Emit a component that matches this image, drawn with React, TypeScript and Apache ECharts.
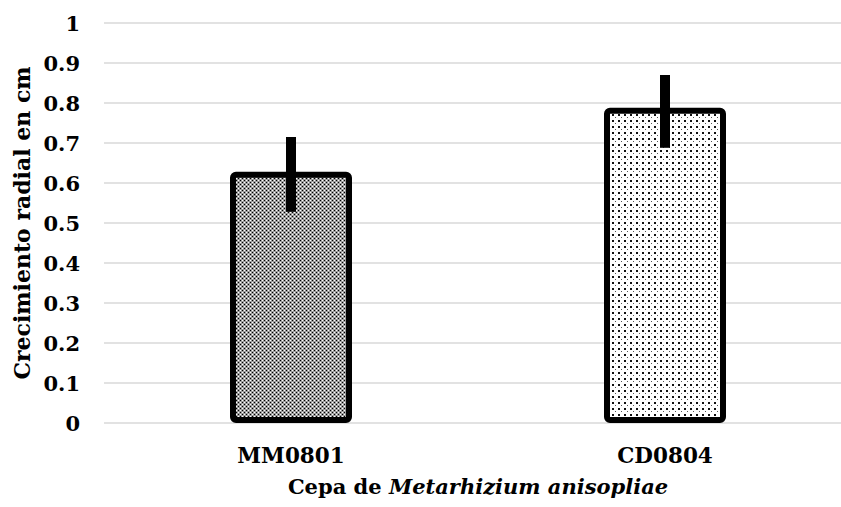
import React, { useEffect, useRef } from "react";
import * as echarts from "echarts";

const categories = ["MM0801", "CD0804"];
const means = [0.628, 0.788];
const errLow = [0.528, 0.688];
const errHigh = [0.715, 0.87];
const yTicks = ["0", "0.1", "0.2", "0.3", "0.4", "0.5", "0.6", "0.7", "0.8", "0.9", "1"];

function makePattern(kind: number): HTMLCanvasElement {
  const c = document.createElement("canvas");
  if (kind === 0) {
    c.width = 4;
    c.height = 4;
    const g = c.getContext("2d")!;
    g.fillStyle = "#9c9c9c";
    g.fillRect(0, 0, 4, 4);
    g.fillStyle = "#000";
    g.fillRect(0, 0, 1, 1);
    g.fillRect(2, 2, 1, 1);
    g.fillStyle = "#fff";
    g.fillRect(2, 0, 1, 1);
    g.fillRect(0, 2, 1, 1);
  } else {
    c.width = 6;
    c.height = 6;
    const g = c.getContext("2d")!;
    g.fillStyle = "#fff";
    g.fillRect(0, 0, 6, 6);
    g.fillStyle = "#111";
    g.fillRect(0, 0, 2, 2);
    g.fillStyle = "#555";
    g.fillRect(3, 3, 1, 1);
  }
  return c;
}

export default function App() {
  const ref = useRef<HTMLDivElement>(null);
  useEffect(() => {
    if (!ref.current) return;
    const chart = echarts.init(ref.current, undefined, { renderer: "svg" });
    const patterns = [makePattern(0), makePattern(1)];
    const font = "DejaVu Serif";
    chart.setOption({
      animation: false,
      backgroundColor: "#fff",
      textStyle: { fontFamily: font },
      grid: { left: 104, right: -11, top: 23, bottom: 84, outerBoundsMode: "none", containLabel: false },
      xAxis: {
        type: "category",
        data: categories,
        axisLine: { show: false },
        axisTick: { show: false },
        axisLabel: {
          margin: 21,
          fontFamily: font,
          fontWeight: "bold",
          fontSize: 21.5,
          color: "#000",
        },
        name: "{a|Cepa de }{b|Metarhizium anisopliae}",
        nameLocation: "middle",
        nameGap: 53,
        nameTextStyle: {
          fontFamily: font,
          fontWeight: "bold",
          fontSize: 21,
          rich: {
            a: { fontFamily: font, fontWeight: "bold", fontSize: 21, color: "#000" },
            b: { fontFamily: font, fontWeight: "bold", fontStyle: "italic", fontSize: 21, color: "#000" },
          },
        },
      },
      yAxis: {
        type: "value",
        min: 0,
        max: 1,
        interval: 0.1,
        axisLine: { show: false },
        axisTick: { show: false },
        splitLine: { lineStyle: { color: "#d9d9d9", width: 1.5 } },
        axisLabel: {
          margin: 24,
          fontFamily: font,
          fontWeight: "bold",
          fontSize: 21,
          color: "#000",
          formatter: (v: number) => yTicks[Math.round(v * 10)] ?? String(v),
        },
        name: "Crecimiento radial en cm",
        nameLocation: "middle",
        nameGap: 68,
        nameTextStyle: {
          fontFamily: font,
          fontWeight: "bold",
          fontSize: 22,
          color: "#000",
        },
      },
      series: [
        {
          type: "bar",
          barWidth: 122,
          data: means.map((v, i) => ({
            value: v,
            itemStyle: {
              color: { image: patterns[i], repeat: "repeat" },
              borderColor: "#000",
              borderWidth: 6,
              borderRadius: 3,
            },
          })),
          z: 2,
        },
        {
          type: "custom",
          z: 5,
          data: categories.map((_, i) => [i, errLow[i], errHigh[i]]),
          renderItem: (params: any, api: any) => {
            const i = api.value(0);
            const lo = api.coord([i, api.value(1)]);
            const hi = api.coord([i, api.value(2)]);
            return {
              type: "rect",
              shape: { x: lo[0] - 5, y: hi[1], width: 10, height: lo[1] - hi[1] },
              style: { fill: "#000" },
            };
          },
        },
      ],
    });
    return () => chart.dispose();
  }, []);
  return (
    <div
      ref={ref}
      style={{ position: "fixed", left: 0, top: 0, width: 841, height: 507 }}
    />
  );
}
